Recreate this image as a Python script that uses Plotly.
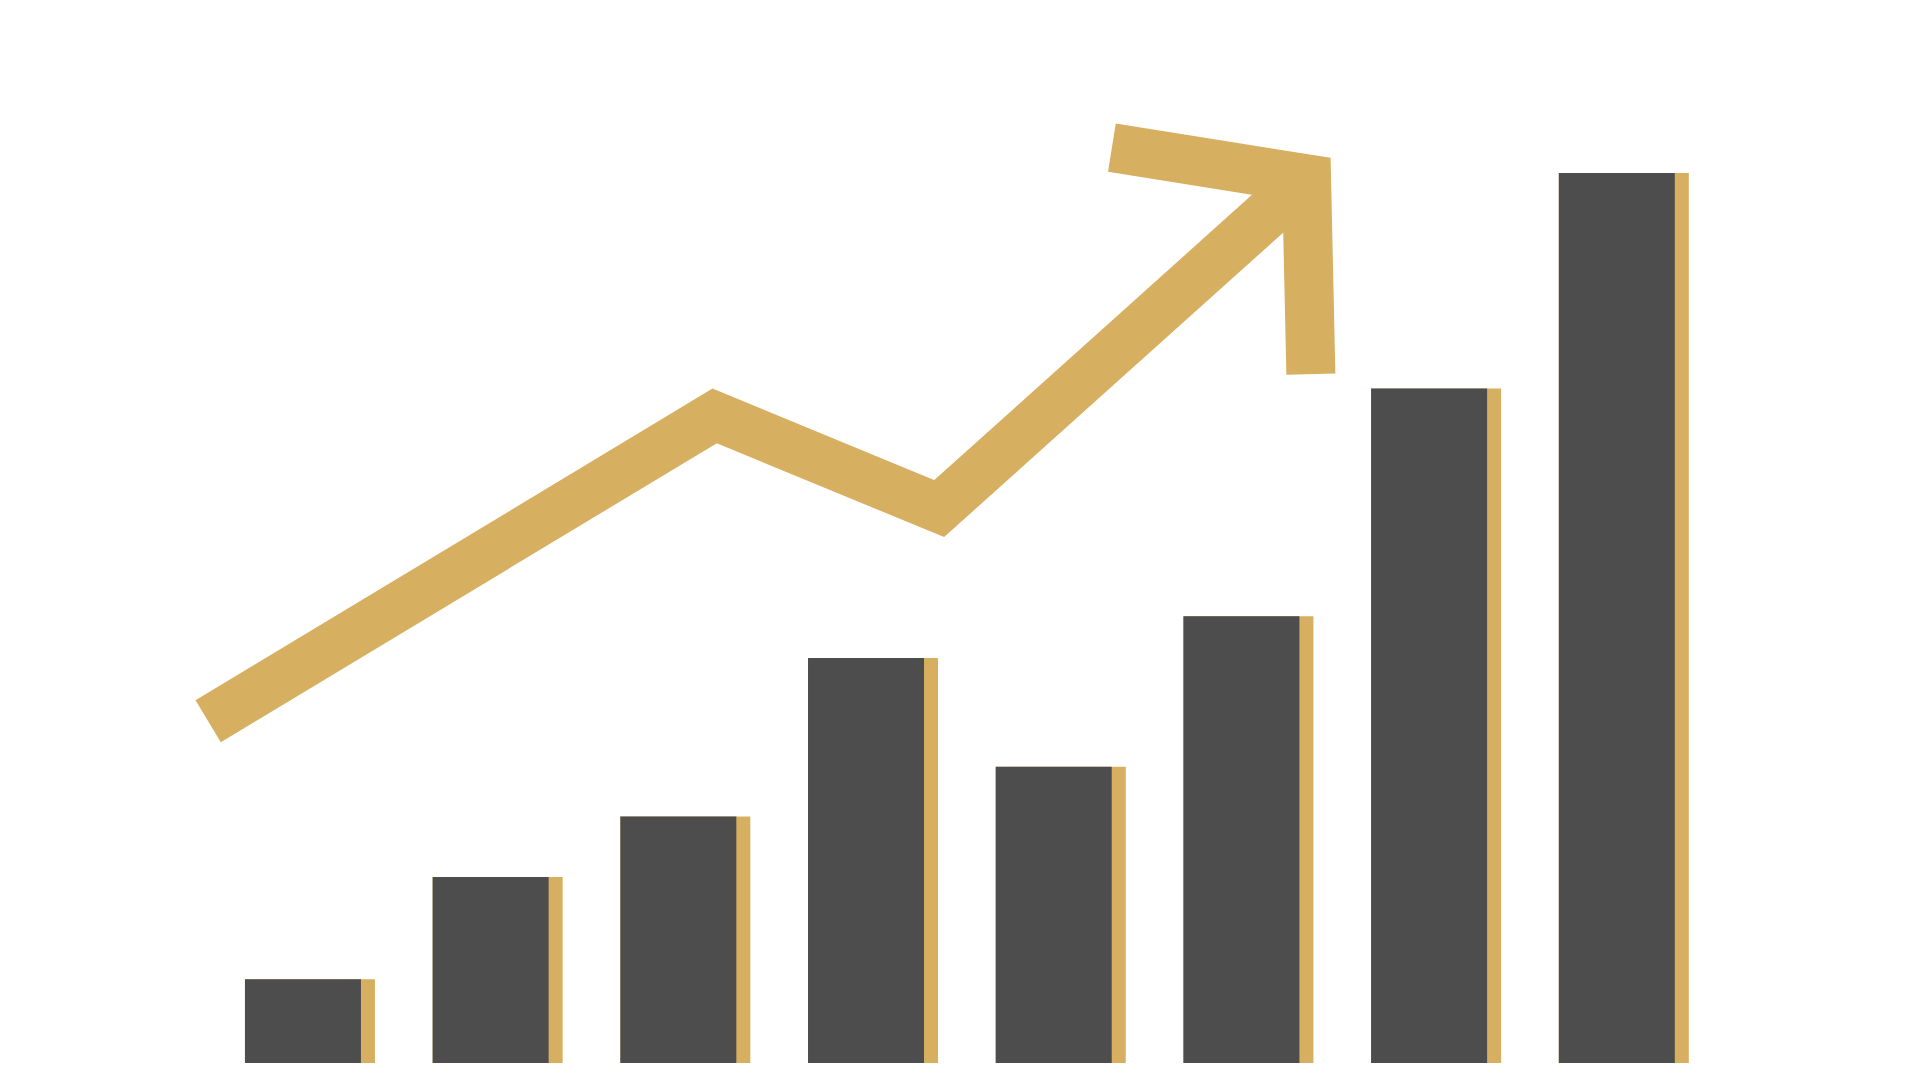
import plotly.graph_objects as go

# Bar data (relative values, tallest = 100)
categories = [0, 1, 2, 3, 4, 5, 6, 7]
bar_values = [9.4, 20.9, 27.7, 45.5, 33.3, 50.2, 75.8, 100.0]

# Trend arrow (data units on the same axes)
trend_x = [-0.505, 2.193, 3.390, 5.347]
trend_y = [38.4, 72.7, 62.3, 99.35]
head_x = [4.310, 5.347, 5.370]
head_y = [102.85, 99.35, 77.4]

DARK = "#4d4d4d"
GOLD = "#d6af60"

fig = go.Figure()
fig.add_trace(go.Bar(x=categories, y=bar_values, width=0.6926, offset=-0.309,
                     marker=dict(color=GOLD, line=dict(width=0)), hoverinfo="skip"))
fig.add_trace(go.Bar(x=categories, y=bar_values, width=0.618, offset=-0.309,
                     marker=dict(color=DARK, line=dict(width=0)), hoverinfo="skip"))
fig.add_trace(go.Scatter(x=trend_x, y=trend_y, mode="lines",
                         line=dict(color=GOLD, width=49), hoverinfo="skip"))
fig.add_trace(go.Scatter(x=head_x, y=head_y, mode="lines",
                         line=dict(color=GOLD, width=49), hoverinfo="skip"))

fig.update_layout(
    width=1920, height=1080,
    margin=dict(l=0, r=0, t=0, b=25),
    paper_bgcolor="white", plot_bgcolor="white",
    barmode="overlay", showlegend=False,
    xaxis=dict(range=[-1.5714, 8.658], visible=False, fixedrange=True),
    yaxis=dict(range=[0, 118.54], visible=False, fixedrange=True),
)
fig.write_html("out.html")
